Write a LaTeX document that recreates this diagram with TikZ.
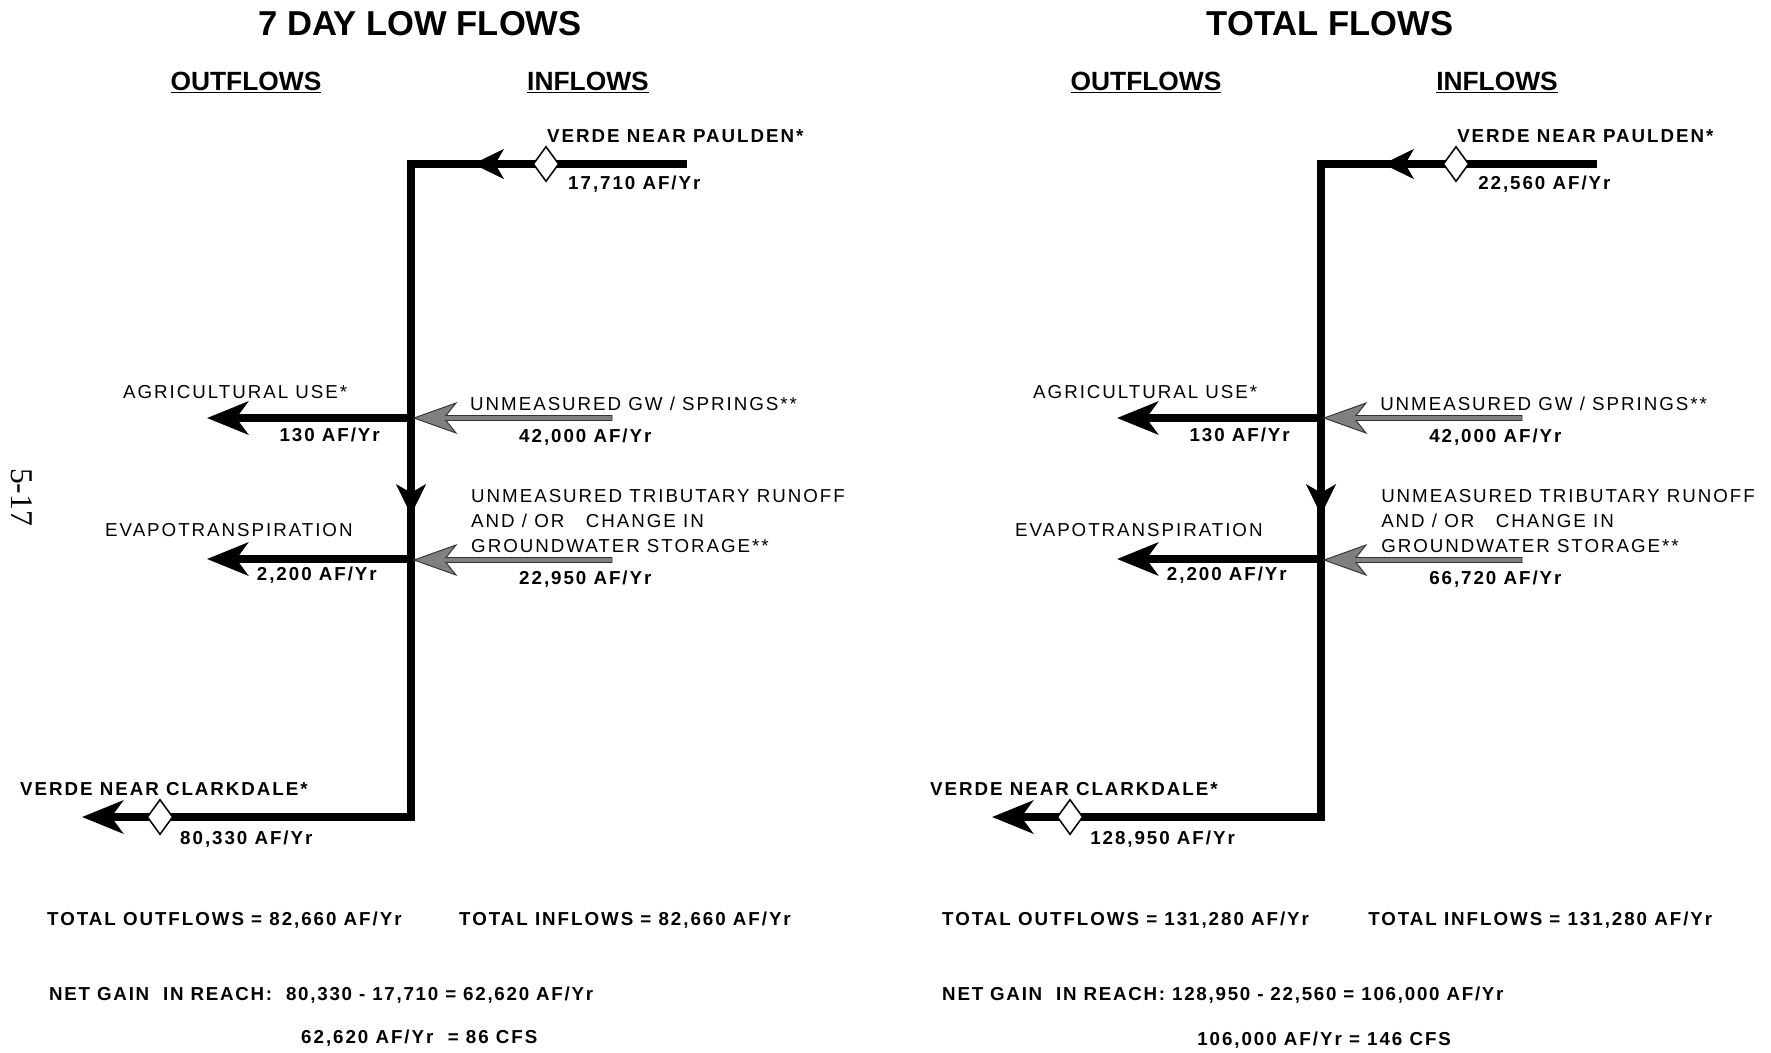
\documentclass[tikz,border=0pt]{standalone}
\usepackage{fontspec}
\setmainfont{Liberation Sans}
\newfontfamily\lblfont[LetterSpace=10.5]{Liberation Sans}
\newfontfamily\sumfont[LetterSpace=9.3]{Liberation Sans}
\newfontfamily\pagefont{Liberation Serif}
\usetikzlibrary{arrows.meta,shapes.geometric}
\definecolor{inflowgray}{RGB}{128,128,128}
\tikzset{
  ttl/.style={font=\bfseries\fontsize{29.5}{34}\selectfont, inner sep=0pt, anchor=base},
  colhead/.style={font=\bfseries\fontsize{22.5}{26}\selectfont, inner sep=0pt, anchor=base},
  lbl/.style={font=\lblfont\fontsize{16}{21.3}\selectfont, inner sep=0pt, anchor=base west, align=left},
  val/.style={font=\lblfont\bfseries\fontsize{16}{21.3}\selectfont, inner sep=0pt, anchor=base west},
  netline/.style={val, font=\sumfont\bfseries\fontsize{16}{21.3}\selectfont},
  flow/.style={line width=6.8pt, line join=miter},
  outtip/.style={-{Stealth[length=35pt,width=28pt,inset=10pt]}},
  midtip/.style={-{Stealth[length=26pt,width=25pt,inset=7pt]}},
  gauge/.style={diamond, draw, fill=white, line width=1.3pt, inner sep=0pt,
    minimum width=22pt, minimum height=30pt},
  inflow/.style={fill=inflowgray, draw=black!80, line width=0.8pt}
}
% gray inflow arrow, tip at #1
\newcommand{\inarrow}[1]{%
  \filldraw[inflow] (#1) -- ++(42,-15) -- ++(-10,12.5) -- ++(166,0) -- ++(0,5)
    -- ++(-166,0) -- ++(10,12.5) -- cycle;}
% one reach diagram: prefix, shift, title, upstream, downstream, tributary
\newcommand{\flowpanel}[6]{%
  \begin{scope}[shift={(#2,0)}]
    % Titulo
    \node[ttl] (#1title) at (420,35) {#3};
    % Cauce
    \coordinate (#1src) at (687,164);
    \coordinate (#1ne) at (411,164);
    \coordinate (#1se) at (411,817);
    \coordinate (#1dst) at (82,817);
    \coordinate (#1midtip) at (473,164);
    \coordinate (#1downtip) at (411,515);
    \coordinate (#1agritip) at (207,418);
    \coordinate (#1ettip) at (207,559);
    \coordinate (#1gwtip) at (414,418);
    \coordinate (#1tribtip) at (414,560);
    \draw[flow, outtip] (#1src) -- (#1ne) -- (#1se) -- (#1dst);
    \draw[flow, midtip] (#1src) -- (#1midtip);
    \draw[flow, midtip] (#1ne) -- (#1downtip);
    \draw[flow, outtip] (#1ne |- #1agritip) -- (#1agritip);
    \draw[flow, outtip] (#1ne |- #1ettip) -- (#1ettip);
    \inarrow{#1gwtip}
    \inarrow{#1tribtip}
    \node[gauge] (#1paulden) at (546,164) {};
    \node[gauge] (#1clark) at (160,817) {};
    % Textos
    \node[val] (#1uplbl) at (547,142) {VERDE NEAR PAULDEN*};
    \node[val] (#1upval) at (568,189) {#4 AF/Yr};
    \node[lbl] (#1agrilbl) at (123,398) {AGRICULTURAL USE*};
    \node[val, anchor=base east] (#1agrival) at (380,441) {130 AF/Yr};
    \node[lbl] (#1etlbl) at (105,536) {EVAPOTRANSPIRATION};
    \node[val, anchor=base east] (#1etval) at (377,580) {2,200 AF/Yr};
    \node[lbl] (#1gwlbl) at (470,410) {UNMEASURED GW / SPRINGS**};
    \node[val] (#1gwval) at (519,442) {42,000 AF/Yr};
    \node[lbl] (#1triblbl) at (471,552) {UNMEASURED TRIBUTARY RUNOFF\\AND / OR~~~CHANGE IN\\GROUNDWATER STORAGE**};
    \node[val] (#1tribval) at (519,584) {#6 AF/Yr};
    \node[val] (#1dnlbl) at (20,795) {VERDE NEAR CLARKDALE*};
    \node[val] (#1dnval) at (180,844) {#5 AF/Yr};
  \end{scope}}

\begin{document}
\begin{tikzpicture}[x=0.03cm, y=-0.03cm]
  \useasboundingbox (0,0) rectangle (1771,1052);
  \flowpanel{L}{0}{7 DAY LOW FLOWS}{17,710}{80,330}{22,950}
  \flowpanel{R}{910}{TOTAL FLOWS}{22,560}{128,950}{66,720}
  % Encabezados
  \node[colhead] (Louthead) at (246,90) {\underline{OUTFLOWS}};
  \node[colhead] (Linhead) at (588,90) {\underline{INFLOWS}};
  \node[colhead] (Routhead) at (1146,90) {\underline{OUTFLOWS}};
  \node[colhead] (Rinhead) at (1497,90) {\underline{INFLOWS}};
  % Balances
  \node[val] (Ltotout) at (47,925) {TOTAL OUTFLOWS = 82,660 AF/Yr};
  \node[val] (Ltotin) at (459,925) {TOTAL INFLOWS = 82,660 AF/Yr};
  \node[netline] (Lnet) at (49,1000) {NET GAIN~~IN REACH:~~80,330 - 17,710 = 62,620 AF/Yr};
  \node[val] (Lcfs) at (301,1043) {62,620 AF/Yr~~= 86 CFS};
  \node[val] (Rtotout) at (942,925) {TOTAL OUTFLOWS = 131,280 AF/Yr};
  \node[val] (Rtotin) at (1368,925) {TOTAL INFLOWS = 131,280 AF/Yr};
  \node[netline] (Rnet) at (942,1000) {NET GAIN~~IN REACH: 128,950 - 22,560 = 106,000 AF/Yr};
  \node[val] (Rcfs) at (1197,1045) {106,000 AF/Yr = 146 CFS};
  % Pagina
  \node[font=\pagefont\fontsize{27}{30}\selectfont, rotate=-90, inner sep=0pt] (pageno) at (22,497) {5-17};
\end{tikzpicture}
\end{document}
